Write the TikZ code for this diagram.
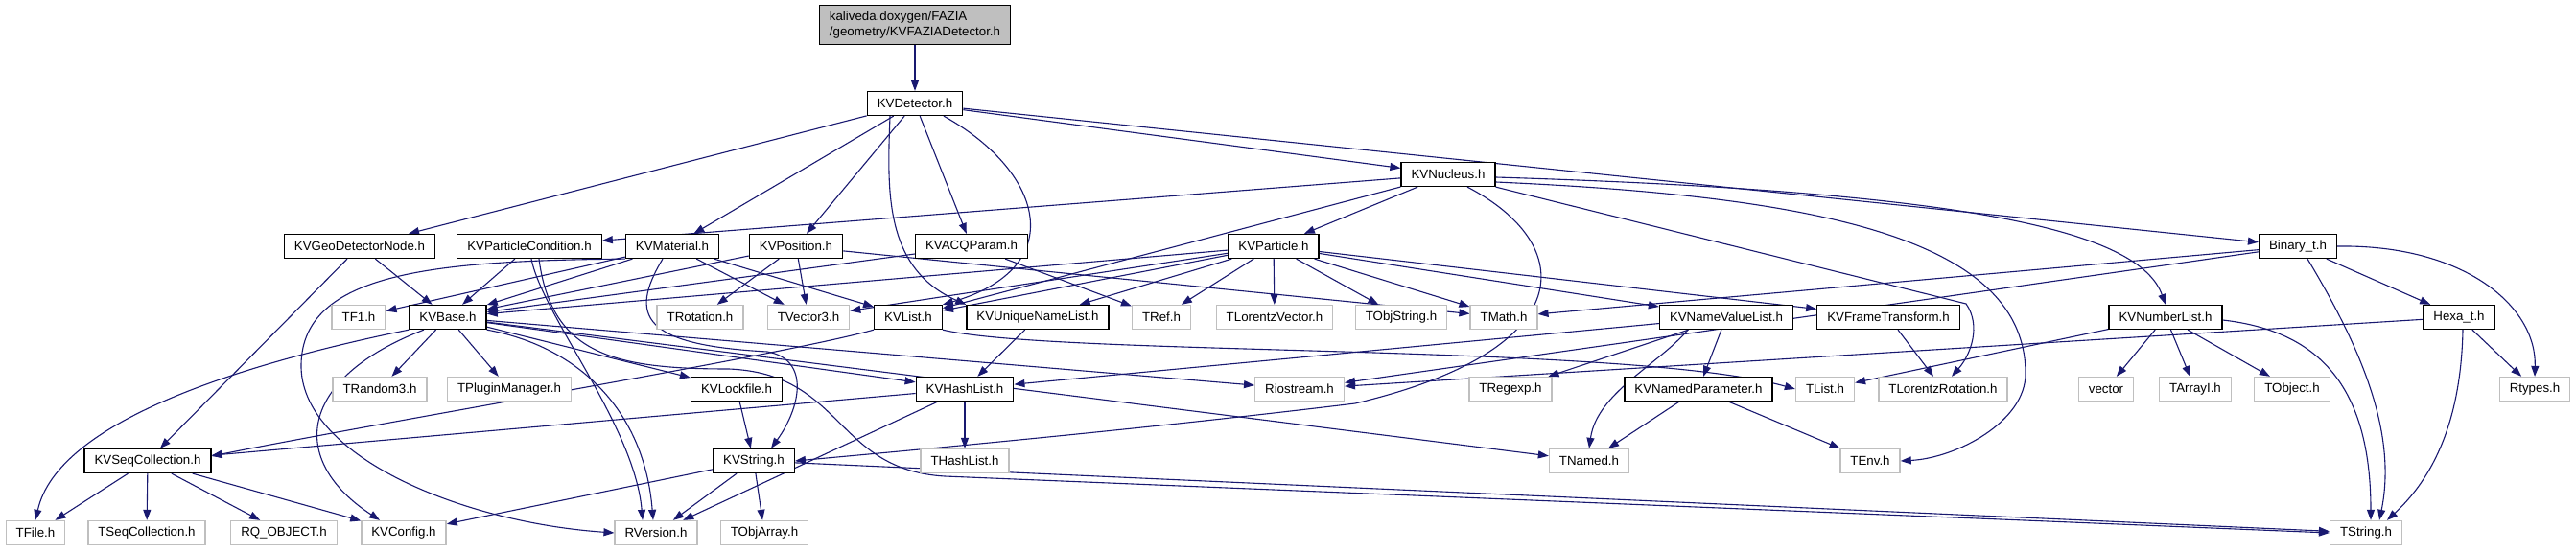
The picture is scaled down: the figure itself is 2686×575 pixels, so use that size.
\documentclass[tikz,border=0pt]{standalone}
\usepackage{fontspec}
\setmainfont{Liberation Sans}
\usetikzlibrary{arrows.meta}
\definecolor{edgec}{HTML}{191970}
\definecolor{greyb}{HTML}{BFBFBF}
\pgfdeclarelayer{bg}
\pgfsetlayers{bg,main}
\tikzset{
  kv/.style={draw=black, line width=1.3bp, rectangle, minimum height=25bp,
    inner xsep=10.5bp, inner ysep=0pt, fill=white,
    font=\fontsize{13.3bp}{16bp}\selectfont},
  ext/.style={kv, draw=greyb},
  rootbox/.style={kv, fill=greyb, align=left, minimum height=41bp, inner ysep=3bp},
  e/.style={draw=edgec, line width=1.1bp, -{Triangle[length=11bp,width=8bp]}},
}
\begin{document}
\begin{tikzpicture}[x=1bp,y=-1bp]
\useasboundingbox (0,0) rectangle (2686,575);
% rank 0-2
\node[rootbox] (root) at (954,26) {kaliveda.doxygen/FAZIA\\/geometry/KVFAZIADetector.h};
\node[kv] (KVDetector) at (954,108) {KVDetector.h};
\node[kv] (KVNucleus) at (1510,182) {KVNucleus.h};
% rank 3
\node[kv] (KVGeoDetectorNode) at (375,257) {KVGeoDetectorNode.h};
\node[kv] (KVParticleCondition) at (552,257) {KVParticleCondition.h};
\node[kv] (KVMaterial) at (701,257) {KVMaterial.h};
\node[kv] (KVPosition) at (830,257) {KVPosition.h};
\node[kv] (KVACQParam) at (1013,257) {KVACQParam.h};
\node[kv] (KVParticle) at (1328,257) {KVParticle.h};
\node[kv] (Binaryt) at (2396,257) {Binary\_t.h};
% rank 4
\node[ext] (TF1) at (374,331) {TF1.h};
\node[kv] (KVBase) at (467,331) {KVBase.h};
\node[ext] (TRotation) at (730,331) {TRotation.h};
\node[ext] (TVector3) at (843,331) {TVector3.h};
\node[kv] (KVList) at (947,331) {KVList.h};
\node[kv] (KVUniqueNameList) at (1082,331) {KVUniqueNameList.h};
\node[ext] (TRef) at (1211,331) {TRef.h};
\node[ext] (TLorentzVector) at (1329,331) {TLorentzVector.h};
\node[ext] (TObjString) at (1461,331) {TObjString.h};
\node[ext] (TMath) at (1568,331) {TMath.h};
\node[kv] (KVNameValueList) at (1800,331) {KVNameValueList.h};
\node[kv] (KVFrameTransform) at (1969,331) {KVFrameTransform.h};
\node[kv] (KVNumberList) at (2258,331) {KVNumberList.h};
\node[kv] (Hexat) at (2564,331) {Hexa\_t.h};
% rank 5
\node[ext] (TRandom3) at (396,406) {TRandom3.h};
\node[ext] (TPluginManager) at (531,406) {TPluginManager.h};
\node[kv] (KVLockfile) at (768,406) {KVLockfile.h};
\node[kv] (KVHashList) at (1006,406) {KVHashList.h};
\node[ext] (Riostream) at (1355,406) {Riostream.h};
\node[ext] (TRegexp) at (1575,406) {TRegexp.h};
\node[kv] (KVNamedParameter) at (1771,406) {KVNamedParameter.h};
\node[ext] (TList) at (1903,406) {TList.h};
\node[ext] (TLorentzRotation) at (2026,406) {TLorentzRotation.h};
\node[ext] (vector) at (2196,406) {vector};
\node[ext] (TArrayI) at (2289,406) {TArrayI.h};
\node[ext] (TObject) at (2390,406) {TObject.h};
\node[ext] (Rtypes) at (2643,406) {Rtypes.h};
% rank 6
\node[kv] (KVSeqCollection) at (154,481) {KVSeqCollection.h};
\node[kv] (KVString) at (786,481) {KVString.h};
\node[ext] (THashList) at (1006,481) {THashList.h};
\node[ext] (TNamed) at (1657,481) {TNamed.h};
\node[ext] (TEnv) at (1950,481) {TEnv.h};
% rank 7
\node[ext] (TFile) at (37,556) {TFile.h};
\node[ext] (TSeqCollection) at (153,556) {TSeqCollection.h};
\node[ext] (RQOBJECT) at (296,556) {RQ\_OBJECT.h};
\node[ext] (KVConfig) at (421,556) {KVConfig.h};
\node[ext] (RVersion) at (684,556) {RVersion.h};
\node[ext] (TObjArray) at (797,556) {TObjArray.h};
\node[ext] (TString) at (2467,556) {TString.h};

\begin{pgfonlayer}{bg}
% root / KVDetector
\draw[e] (root) -- (KVDetector);
\draw[e] (KVDetector) -- (KVGeoDetectorNode);
\draw[e] (KVDetector) -- (KVMaterial);
\draw[e] (KVDetector) -- (KVPosition);
\draw[e] (KVDetector) -- (KVACQParam);
\draw[e] ([xshift=-26bp]KVDetector.south) .. controls (925,200) and (922,280) .. (KVUniqueNameList.north west);
\draw[e] ([xshift=30bp]KVDetector.south) .. controls (1090,180) and (1115,280) .. (KVList.north east);
\draw[e] (KVDetector) -- (KVNucleus);
\draw[e] (KVDetector) -- (Binaryt);
% KVNucleus
\draw[e] (KVNucleus) -- (KVParticleCondition);
\draw[e] (KVNucleus) -- (KVList);
\draw[e] (KVNucleus) -- (KVParticle);
\draw[e] ([yshift=-3bp]KVNucleus.east) .. controls (2050,200) and (2230,240) .. (KVNumberList.north);
\draw[e] (KVNucleus.south east) -- (2050,317) .. controls (2066,340) and (2055,370) .. ([xshift=9bp]TLorentzRotation.north);
\draw[e] ([yshift=-8bp]KVNucleus.east) .. controls (1900,205) and (2112,250) .. (2112,390) .. controls (2112,440) and (2040,478) .. (TEnv.east);
\draw[e] ([xshift=20bp]KVNucleus.south) .. controls (1645,255) and (1650,365) .. (1413,421) .. controls (1200,447) and (950,470) .. (KVString.east);
% level 3 nodes
\draw[e] (KVGeoDetectorNode) -- (KVBase);
\draw[e] (KVGeoDetectorNode) -- (KVSeqCollection);
\draw[e] (KVParticleCondition) -- (KVBase);
\draw[e] ([xshift=2bp]KVParticleCondition.south) .. controls (566,330) and (662,445) .. ([xshift=-14bp]RVersion.north);
\draw[e] ([xshift=10bp]KVParticleCondition.south) .. controls (575,370) and (640,385) .. (760,385) .. controls (880,390) and (870,490) .. (985,497) -- (TString.west);
\draw[e] (KVMaterial) -- (KVBase);
\draw[e] (KVMaterial) -- (TF1);
\draw[e] (KVMaterial) -- (TVector3);
\draw[e] (KVMaterial) -- (KVList);
\draw[e] (KVMaterial.south west) .. controls (450,272) and (316,285) .. (314,380) .. controls (312,475) and (480,545) .. (RVersion.west);
\draw[e] ([xshift=-10bp]KVMaterial.south) .. controls (655,330) and (670,360) .. (800,367) .. controls (845,375) and (835,425) .. ([xshift=18bp]KVString.north);
\draw[e] (KVPosition) -- (KVBase);
\draw[e] (KVPosition) -- (TRotation);
\draw[e] (KVPosition) -- (TVector3);
\draw[e] (KVPosition) -- (TMath);
\draw[e] (KVACQParam) -- (KVBase);
\draw[e] (KVACQParam) -- (TRef);
\draw[e] (KVParticle) -- (KVBase);
\draw[e] (KVParticle) -- (TVector3);
\draw[e] (KVParticle) -- (KVList);
\draw[e] (KVParticle) -- (KVUniqueNameList);
\draw[e] (KVParticle) -- (TRef);
\draw[e] (KVParticle) -- (TLorentzVector);
\draw[e] (KVParticle) -- (TObjString);
\draw[e] (KVParticle) -- (TMath);
\draw[e] (KVParticle) -- (KVNameValueList);
\draw[e] (KVParticle) -- (KVFrameTransform);
\draw[e] (Binaryt) -- (TMath);
\draw[e] (Binaryt) -- (Riostream);
\draw[e] (Binaryt) -- (Hexat);
\draw[e] (Binaryt.east) .. controls (2570,255) and (2645,320) .. (Rtypes.north);
\draw[e] ([xshift=10bp]Binaryt.south) .. controls (2460,360) and (2500,450) .. ([xshift=14bp]TString.north);
% level 4 nodes
\draw[e] (KVBase.south west) .. controls (250,380) and (60,440) .. (TFile.north);
\draw[e] ([xshift=-25bp]KVBase.south) .. controls (310,395) and (300,480) .. ([xshift=-25bp]KVConfig.north);
\draw[e] (KVBase) -- (TRandom3);
\draw[e] (KVBase) -- (TPluginManager);
\draw[e] (KVBase.south east) .. controls (605,362) and (672,430) .. ([xshift=-3bp]RVersion.north);
\draw[e] (KVBase) -- (KVLockfile);
\draw[e] (KVBase) -- (KVHashList);
\draw[e] (KVBase) -- (Riostream);
\draw[e] (KVBase) -- (TNamed);
\draw[e] (KVList.south west) .. controls (820,370) and (400,440) .. ([yshift=5bp]KVSeqCollection.east);
\draw[e] (KVList.south east) .. controls (1100,372) and (1700,358) .. (TList.west);
\draw[e] (KVUniqueNameList) -- (KVHashList);
\draw[e] (KVNameValueList) -- (KVHashList);
\draw[e] (KVNameValueList) -- (TRegexp);
\draw[e] (KVNameValueList) -- (KVNamedParameter);
\draw[e] ([xshift=-40bp]KVNameValueList.south) .. controls (1730,380) and (1665,410) .. (TNamed.north);
\draw[e] (KVFrameTransform) -- (TLorentzRotation);
\draw[e] (KVNumberList) -- (TList);
\draw[e] (KVNumberList) -- (vector);
\draw[e] (KVNumberList) -- (TArrayI);
\draw[e] (KVNumberList) -- (TObject);
\draw[e] ([yshift=-3bp]KVNumberList.east) .. controls (2415,345) and (2472,400) .. ([xshift=5bp]TString.north);
\draw[e] (Hexat) -- (Riostream);
\draw[e] (Hexat) -- (Rtypes);
\draw[e] ([xshift=4bp]Hexat.south) .. controls (2566,450) and (2530,505) .. ([xshift=22bp]TString.north);
% level 5 nodes
\draw[e] (KVLockfile) -- (KVString);
\draw[e] (KVHashList) -- (KVSeqCollection);
\draw[e] (KVHashList) -- (THashList);
\draw[e] (KVHashList) -- (RVersion);
\draw[e] (KVNamedParameter) -- (TNamed);
\draw[e] (KVNamedParameter) -- (TEnv);
% level 6 nodes
\draw[e] (KVSeqCollection) -- (TFile);
\draw[e] (KVSeqCollection) -- (TSeqCollection);
\draw[e] (KVSeqCollection) -- (RQOBJECT);
\draw[e] (KVSeqCollection) -- (KVConfig);
\draw[e] (KVString) -- (KVConfig);
\draw[e] (KVString) -- (RVersion);
\draw[e] (KVString) -- (TObjArray);
\draw[e] (KVString) -- (TString);
\end{pgfonlayer}
\end{tikzpicture}
\end{document}
